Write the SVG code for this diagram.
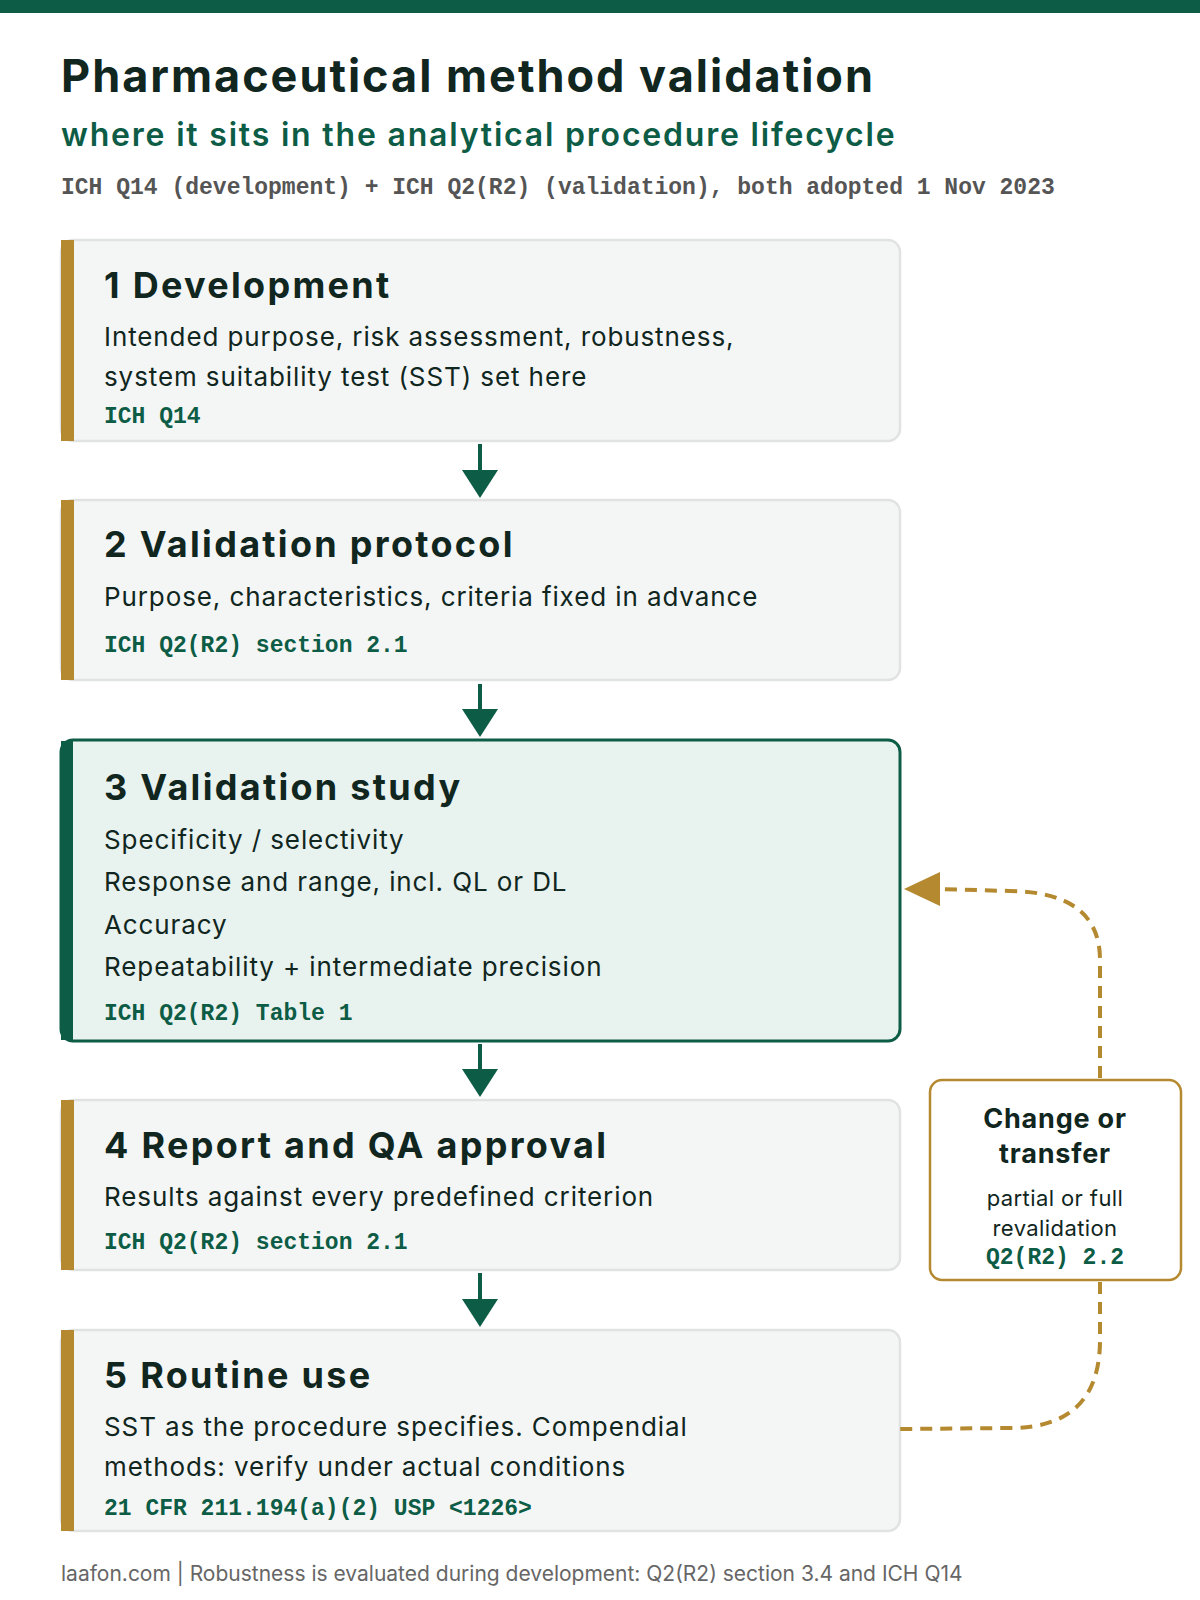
<svg xmlns="http://www.w3.org/2000/svg" width="1200" height="1600" viewBox="0 0 1200 1600">
<style>
.t{font-family:Inter,"Noto Sans",sans-serif;font-weight:700;fill:#10261e}
.h{letter-spacing:2.3px}
.b{font-family:Inter,"Noto Sans",sans-serif;font-size:26px;fill:#10261e;letter-spacing:0.9px}
.m{font-family:"Liberation Mono","DejaVu Sans Mono",monospace;font-weight:700;font-size:23px;fill:#0d5c45}
.box{fill:#f4f6f5;stroke:#e0e3e1;stroke-width:2.5}
.bar{fill:#b5892f}
.ar{stroke:#0d5c45;stroke-width:4;fill:none}
.ah{fill:#0d5c45}
.dash{stroke:#b5892f;stroke-width:4;fill:none;stroke-dasharray:12 8}
</style>
<rect width="1200" height="1600" fill="#fff"/>
<rect width="1200" height="13" fill="#0d5c45"/>
<text x="61" y="92" class="t" font-size="45" letter-spacing="2">Pharmaceutical method validation</text>
<text x="61" y="146" font-family="Inter,sans-serif" font-weight="600" font-size="32" fill="#0d5c45" letter-spacing="1.8">where it sits in the analytical procedure lifecycle</text>
<text x="61" y="194" font-family="'Liberation Mono',monospace" font-weight="700" font-size="23" fill="#555">ICH Q14 (development) + ICH Q2(R2) (validation), both adopted 1 Nov 2023</text>

<g id="n1"><rect x="61" y="240" width="839" height="201" rx="12" class="box"/><rect x="61" y="240" width="13" height="201" class="bar"/>
<text x="104" y="298" class="t h" font-size="36">1 Development</text>
<text x="104" y="346" class="b">Intended purpose, risk assessment, robustness,</text>
<text x="104" y="386" class="b">system suitability test (SST) set here</text>
<text x="104" y="423" class="m">ICH Q14</text></g>

<g id="n2"><rect x="61" y="500" width="839" height="180" rx="12" class="box"/><rect x="61" y="500" width="13" height="180" class="bar"/>
<text x="104" y="557" class="t h" font-size="36">2 Validation protocol</text>
<text x="104" y="606" class="b">Purpose, characteristics, criteria fixed in advance</text>
<text x="104" y="652" class="m">ICH Q2(R2) section 2.1</text></g>

<g id="n3"><rect x="61" y="740" width="839" height="301" rx="12" fill="#e8f2ee" stroke="#0d5c45" stroke-width="3"/><rect x="61" y="741" width="12" height="299" fill="#0d5c45"/>
<text x="104" y="800" class="t h" font-size="36">3 Validation study</text>
<text x="104" y="849" class="b">Specificity / selectivity</text>
<text x="104" y="891" class="b">Response and range, incl. QL or DL</text>
<text x="104" y="934" class="b">Accuracy</text>
<text x="104" y="976" class="b">Repeatability + intermediate precision</text>
<text x="104" y="1020" class="m">ICH Q2(R2) Table 1</text></g>

<g id="n4"><rect x="61" y="1100" width="839" height="170" rx="12" class="box"/><rect x="61" y="1100" width="13" height="170" class="bar"/>
<text x="104" y="1158" class="t h" font-size="36">4 Report and QA approval</text>
<text x="104" y="1206" class="b">Results against every predefined criterion</text>
<text x="104" y="1249" class="m">ICH Q2(R2) section 2.1</text></g>

<g id="n5"><rect x="61" y="1330" width="839" height="201" rx="12" class="box"/><rect x="61" y="1330" width="13" height="201" class="bar"/>
<text x="104" y="1388" class="t h" font-size="36">5 Routine use</text>
<text x="104" y="1436" class="b">SST as the procedure specifies. Compendial</text>
<text x="104" y="1476" class="b">methods: verify under actual conditions</text>
<text x="104" y="1515" class="m">21 CFR 211.194(a)(2) USP &lt;1226&gt;</text></g>

<g id="n6"><rect x="930" y="1080" width="251" height="200" rx="12" fill="#fff" stroke="#b5892f" stroke-width="2.5"/>
<text x="1055" y="1128" class="t" font-size="27" text-anchor="middle" letter-spacing="0.8">Change or</text>
<text x="1055" y="1163" class="t" font-size="27" text-anchor="middle" letter-spacing="0.8">transfer</text>
<text x="1055" y="1206" font-family="Inter,sans-serif" font-size="22" fill="#10261e" text-anchor="middle" letter-spacing="0.4">partial or full</text>
<text x="1055" y="1236" font-family="Inter,sans-serif" font-size="22" fill="#10261e" text-anchor="middle" letter-spacing="0.4">revalidation</text>
<text x="1055" y="1264" class="m" font-size="20" text-anchor="middle">Q2(R2) 2.2</text></g>

<g id="connectors">
<path d="M480 444V480" class="ar"/><path d="M462 470L498 470L480 498Z" class="ah"/>
<path d="M480 684V720" class="ar"/><path d="M462 709L498 709L480 737Z" class="ah"/>
<path d="M480 1044V1080" class="ar"/><path d="M462 1069L498 1069L480 1097Z" class="ah"/>
<path d="M480 1273V1310" class="ar"/><path d="M462 1299L498 1299L480 1327Z" class="ah"/>
<path d="M1100 1078V960Q1100 892 1010 891L938 889" class="dash"/>
<path d="M904 889L940 872L940 906Z" fill="#b5892f"/>
<path d="M1100 1282V1340Q1100 1428 1010 1428L900 1429" class="dash"/>
</g>
<text x="61" y="1581" font-family="Inter,sans-serif" font-size="21" fill="#666">laafon.com | Robustness is evaluated during development: Q2(R2) section 3.4 and ICH Q14</text>
</svg>
